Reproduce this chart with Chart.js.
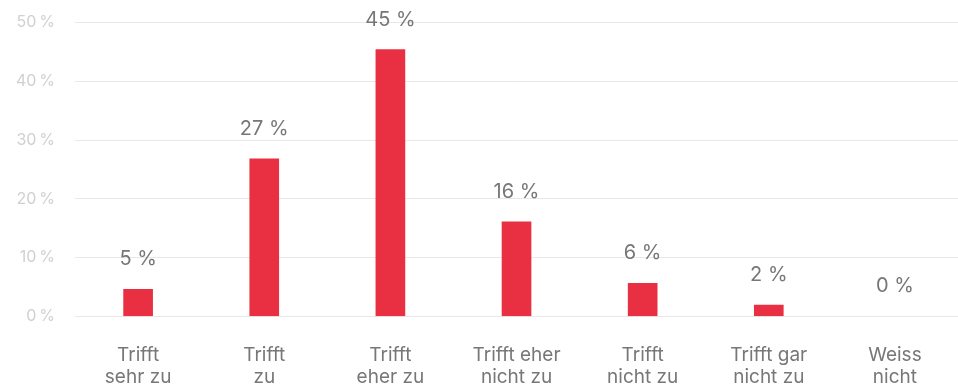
<!DOCTYPE html>
<html>
<head>
<meta charset="utf-8">
<script src="https://cdn.jsdelivr.net/npm/chart.js@4"></script>
<style>
  html, body { margin: 0; padding: 0; background: #fff; overflow: hidden; }
  #wrap { width: 958px; height: 415px; margin-top: -7px; }
</style>
</head>
<body>
<div id="wrap"><canvas id="chart"></canvas></div>
<script>
const categories = [
  ["Trifft", "sehr zu"],
  ["Trifft", "zu"],
  ["Trifft", "eher zu"],
  ["Trifft eher", "nicht zu"],
  ["Trifft", "nicht zu"],
  ["Trifft gar", "nicht zu"],
  ["Weiss", "nicht"]
];
const shares = [4.6, 26.8, 45.4, 16.1, 5.6, 1.9, 0];
const shareLabels = ["5 %", "27 %", "45 %", "16 %", "6 %", "2 %", "0 %"];
const yTicks = [0, 10, 20, 30, 40, 50];

const fontFamily = "Inter, 'Liberation Sans', sans-serif";

// draws the percentage above each bar
const valueLabels = {
  id: "valueLabels",
  afterDatasetsDraw(chart) {
    const ctx = chart.ctx;
    const meta = chart.getDatasetMeta(0);
    ctx.save();
    ctx.font = "20px " + fontFamily;
    ctx.fillStyle = "#777777";
    ctx.textAlign = "center";
    ctx.textBaseline = "middle";
    meta.data.forEach((bar, i) => {
      ctx.fillText(shareLabels[i], bar.x, bar.y - 30);
    });
    ctx.restore();
  }
};

const chartContainer = document.getElementById("chart");

new Chart(chartContainer, {
  type: "bar",
  data: {
    labels: categories,
    datasets: [
      {
        data: shares,
        backgroundColor: shares.map((v) => (v > 0 ? "#e83042" : "rgba(0,0,0,0)")),
        barThickness: 29
      }
    ]
  },
  options: {
    responsive: true,
    maintainAspectRatio: false,
    animation: false,
    layout: { padding: { top: 2, right: 0, left: -4, bottom: 0 } },
    plugins: {
      legend: { display: false },
      tooltip: { enabled: false }
    },
    scales: {
      x: {
        grid: { display: false },
        border: { display: false },
        ticks: {
          color: "#777777",
          font: { family: fontFamily, size: 19, lineHeight: 1.15 },
          padding: 20,
          maxRotation: 0
        }
      },
      y: {
        min: 0,
        max: 50,
        afterBuildTicks(axis) {
          axis.ticks = yTicks.map((v) => ({ value: v }));
        },
        grid: { color: "#e8e8e8", lineWidth: 1, drawTicks: false },
        border: { display: false },
        ticks: {
          color: "#d0d0d0",
          font: { family: fontFamily, size: 16 },
          padding: 20,
          callback: (v) => v + "\u2009%"
        }
      }
    }
  },
  plugins: [valueLabels]
});
</script>
</body>
</html>
